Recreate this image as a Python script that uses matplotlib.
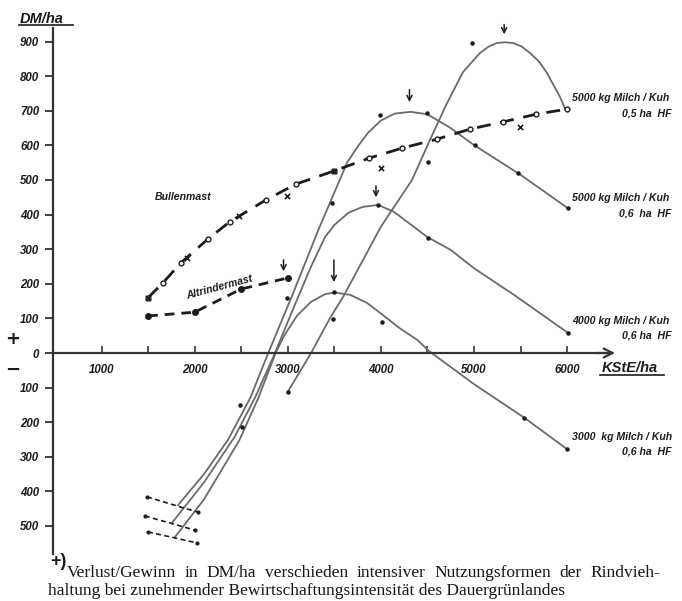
import numpy as np
import matplotlib.pyplot as plt

# KStE/ha on x, DM/ha on y
a_x = [3000, 3250, 3460, 3600, 3790, 4000, 4334, 4527, 4710, 4882, 5064, 5160, 5246, 5330, 5418, 5510, 5601, 5700, 5784, 5924, 5980]
a_y = [-112, 0, 104, 165, 260, 365, 500, 616, 722, 812, 867, 886, 896, 898, 896, 886, 867, 842, 809, 740, 705]

b_x = [1820, 2100, 2360, 2600, 2790, 3050, 3330, 3640, 3760, 3860, 4000, 4150, 4320, 4500, 4750, 5000, 5500, 6000]
b_y = [-440, -350, -250, -128, 0, 168, 357, 552, 600, 636, 672, 692, 697, 690, 650, 601, 515, 420]

c_x = [1756, 2100, 2430, 2650, 2840, 3080, 3250, 3400, 3500, 3650, 3800, 3970, 4140, 4500, 4750, 5000, 5430, 6000]
c_y = [-491, -374, -242, -128, -14, 142, 250, 335, 370, 405, 422, 428, 408, 335, 298, 245, 168, 60]

d_x = [1788, 2100, 2480, 2680, 2870, 2960, 3100, 3250, 3400, 3500, 3670, 3850, 4020, 4200, 4390, 4520, 5000, 5540, 6000]
d_y = [-532, -423, -252, -132, 0, 50, 108, 148, 170, 175, 168, 145, 110, 72, 38, 5, -90, -187, -278]

bullen_x = [1500, 1656, 1850, 2140, 2376, 2763, 3086, 3495, 3871, 4226, 4602, 4957, 5311, 5666, 6000]
bullen_y = [160, 202, 260, 329, 379, 442, 488, 526, 563, 592, 618, 647, 668, 690, 705]
bullen_xm_x = [1500, 1914, 2473, 2989, 3495, 4000, 5495]
bullen_xm_y = [160, 275, 396, 454, 526, 535, 653]

altr_x = [1500, 2000, 2500, 3000]
altr_y = [107, 118, 185, 217]

dots_x = [3000, 3485, 4505, 4978, 3990, 4495, 5010, 5473, 6011, 3475, 2992, 4506, 3970, 6011, 3495, 4011, 5538, 6000, 2487, 2508]
dots_y = [-112, 98, 552, 896, 688, 694, 601, 520, 419, 434, 159, 332, 428, 58, 175, 90, -187, -278, -150, -214]

ext_x0 = [1488, 1466, 1498]
ext_y0 = [-416, -471, -517]
ext_x1 = [2035, 2003, 2025]
ext_y1 = [-460, -512, -549]

peak_x = [2954, 3495, 3947, 4307, 5324]
peak_tail = [277, 277, 491, 769, 957]
peak_tip = [228, 197, 442, 717, 913]

curve_labels = [("5000 kg Milch / Kuh", "0,5 ha  HF"),
                ("5000 kg Milch / Kuh", "0,6  ha  HF"),
                ("4000 kg Milch / Kuh", "0,6 ha  HF"),
                ("3000  kg Milch / Kuh", "0,6 ha  HF")]
label_py = [98, 198, 321, 437]

yticks = list(range(-500, 1000, 100))
xticks = [1000, 2000, 3000, 4000, 5000, 6000]
xminor = [1500, 2500, 3500, 4500, 5500]

caption1 = "Verlust/Gewinn in DM/ha verschieden intensiver Nutzungsformen der Rindvieh-"
caption2 = "haltung bei zunehmender Bewirtschaftungsintensität des Dauergrünlandes"

W, H = 682, 601
ink = '#1c1c1c'
grey = '#6a6a6a'

def fx(px):
    return px / W

def fy(py):
    return 1 - py / H

fig = plt.figure(figsize=(W / 100, H / 100), dpi=100)
ax = fig.add_axes([8.5 / W, (H - 595.2) / H, 0.0931 * 7200 / W, 588.2 / H])
ax.set_xlim(0, 7200)
ax.set_ylim(-700, 1000)

for s in ['top', 'right']:
    ax.spines[s].set_visible(False)
ax.spines['left'].set_position(('data', 480))
ax.spines['left'].set_bounds(-580, 940)
ax.spines['bottom'].set_position(('data', 0))
ax.spines['bottom'].set_bounds(480, 6450)
for s in ['left', 'bottom']:
    ax.spines[s].set_color('#333333')
    ax.spines[s].set_linewidth(1.6)
ax.annotate('', xy=(6545, 0), xytext=(6300, 0),
            arrowprops=dict(arrowstyle='->', lw=1.6, color='#333333', mutation_scale=16))

tfont = dict(family='Liberation Sans', weight='bold', style='italic', size=8.3)
ax.set_yticks(yticks)
ax.set_yticklabels([str(abs(v)) for v in yticks], **tfont, color=ink)
ax.set_xticks(xticks)
ax.set_xticklabels([str(v) for v in xticks], **tfont, color=ink)
ax.set_xticks(xminor, minor=True)
ax.tick_params(axis='y', direction='out', length=6, width=1.3, pad=4, color='#333333')
ax.tick_params(axis='x', which='both', direction='in', length=5, width=1.2, pad=8, color='#333333')

# milk curves
for xs, ys in [(a_x, a_y), (b_x, b_y), (c_x, c_y), (d_x, d_y)]:
    ax.plot(xs, ys, color=grey, lw=1.3, solid_joinstyle='round')
ax.scatter(dots_x, dots_y, s=5, color=ink, zorder=3)

for x0, y0, x1, y1 in zip(ext_x0, ext_y0, ext_x1, ext_y1):
    ax.plot([x0, x1], [y0, y1], color=ink, lw=1.2, ls=(0, (3, 2)), marker='.', ms=4)

# beef lines
ax.plot(bullen_x, bullen_y, color=ink, lw=2, ls=(0, (5, 3.5)),
        marker='o', ms=3.5, mfc='white', mec=ink, mew=1)
ax.scatter(bullen_xm_x, bullen_xm_y, marker='x', s=14, color=ink, lw=1.2, zorder=3)
ax.plot(altr_x, altr_y, color=ink, lw=2, ls=(0, (3.5, 2.5)), marker='o', ms=4)

for x, t0, t1 in zip(peak_x, peak_tail, peak_tip):
    ax.annotate('', xy=(x, t1), xytext=(x, t0),
                arrowprops=dict(arrowstyle='->', lw=1.1, color=ink, mutation_scale=9))

lfont = dict(family='Liberation Sans', weight='bold', style='italic', size=7.6, color=ink)
fig.text(fx(155), fy(197), "Bullenmast", va='center', ha='left', **lfont)
fig.text(fx(219), fy(287), "Altrindermast", va='center', ha='center', rotation=15, **lfont)
for (l1, l2), py in zip(curve_labels, label_py):
    fig.text(fx(572), fy(py), l1, va='center', ha='left', **lfont)
    fig.text(fx(671), fy(py + 15), l2, va='center', ha='right', **lfont)

fig.text(fx(20), fy(23), "DM/ha", va='baseline', ha='left',
         family='Liberation Sans', weight='bold', style='italic', size=10.5, color=ink)
fig.add_artist(plt.Line2D([fx(19), fx(73)], [fy(25), fy(25)], color=ink, lw=1.2))
fig.text(fx(602), fy(372), "KStE/ha", va='baseline', ha='left',
         family='Liberation Sans', weight='bold', style='italic', size=10.5, color=ink)
fig.add_artist(plt.Line2D([fx(600), fx(664)], [fy(375), fy(375)], color=ink, lw=1.2))
fig.text(fx(13), fy(339), "+", va='center', ha='center', size=13, weight='bold', color=ink)
fig.text(fx(13), fy(370), "\u2212", va='center', ha='center', size=13, weight='bold', color=ink)

cfont = dict(family='Liberation Serif', size=12.5, color='#151515')
fig.text(fx(50), fy(566), "+)", va='baseline', ha='left', size=13, weight='bold',
         family='Liberation Sans', color=ink)

# first caption line is justified between x=67 and x=660 px
renderer = fig.canvas.get_renderer()
words = caption1.split()
widths = []
for w in words:
    t = fig.text(0, 0, w, **cfont)
    widths.append(t.get_window_extent(renderer).width)
    t.remove()
gap = (660 - 67 - sum(widths)) / (len(words) - 1)
xpos = 67
for w, wd in zip(words, widths):
    fig.text(fx(xpos), fy(577), w, va='baseline', ha='left', **cfont)
    xpos += wd + gap
fig.text(fx(48), fy(595), caption2, va='baseline', ha='left', **cfont)

fig.savefig('out.png', dpi=100, facecolor='white')
